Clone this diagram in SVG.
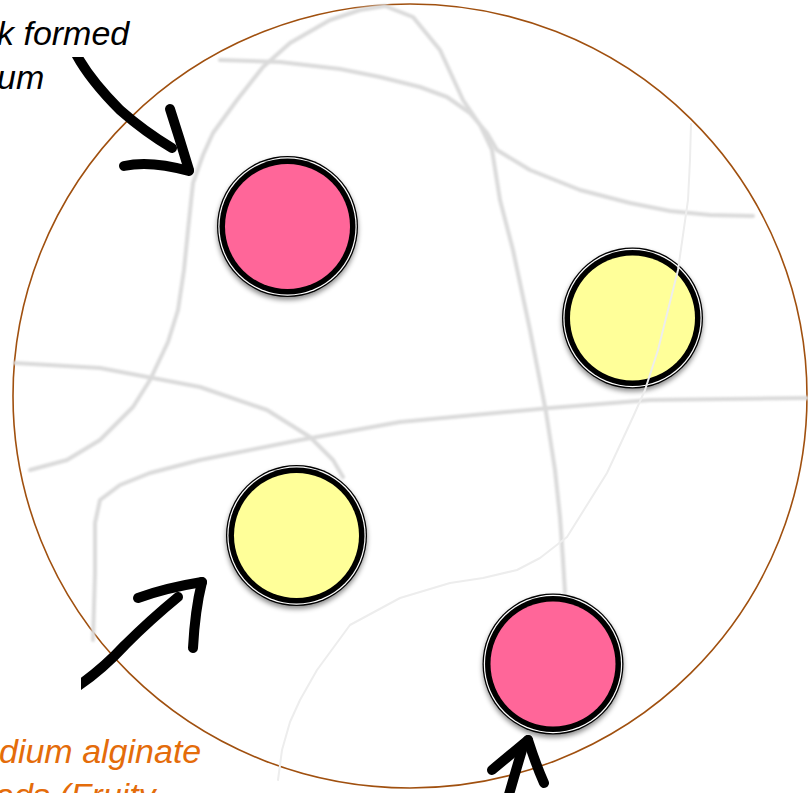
<svg xmlns="http://www.w3.org/2000/svg" width="808" height="793" viewBox="0 0 808 793">
<defs>
<style>
.net{fill:none;stroke:#dadada;stroke-width:4;stroke-linejoin:round;stroke-linecap:round}
.thin{fill:none;stroke:#ededed;stroke-width:2;stroke-linejoin:round;stroke-linecap:round}
.ink{fill:none;stroke:#000;stroke-width:10;stroke-linecap:round;stroke-linejoin:round}
.lbl{font-family:"Liberation Sans",Arial,sans-serif;font-style:italic;font-size:34px}
.pink{fill:#FF6699}
.yel{fill:#FFFF99}
</style>
<filter id="soft" x="-5%" y="-5%" width="110%" height="110%"><feGaussianBlur stdDeviation="1.1"/></filter>
<filter id="shadow" x="-20%" y="-20%" width="140%" height="140%"><feDropShadow dx="0" dy="3" stdDeviation="2.5" flood-color="#000" flood-opacity="0.45"/></filter>
<clipPath id="clipA1"><rect x="0" y="57" width="808" height="736"/></clipPath>
<clipPath id="clipA2"><rect x="81" y="0" width="727" height="793"/></clipPath>
</defs>
<rect width="808" height="793" fill="#fff"/>
<ellipse cx="410" cy="396" rx="397" ry="392" fill="#fff" stroke="#A0500F" stroke-width="1.6"/>
<g id="network" filter="url(#soft)">
<path class="net" d="M220,60 L280,62 L340,69 L380,77 L420,87 L447,97 L470,113 L487,133 L497,150 L530,170 L580,190 L630,203 L670,211 L710,215 L753,216"/>
<path class="net" d="M30,470 L67,460 L100,440 L133,407 L150,380 L168,342 L178,310 L184,270 L188,230 L193,183 L203,155 L213,133 L237,100 L263,67 L290,43 L330,20 L360,10 L385,6 L413,17 L440,50 L463,100 L480,125 L492,150 L500,200 L513,250 L530,330 L546,412 L555,470 L560,517 L563,560 L565,592"/>
<path class="net" d="M15,363 L100,368 L200,387 L267,410 L310,437 L333,460 L343,477"/>
<path class="net" d="M807,398 L650,400 L550,408 L400,422 L300,440 L200,460 L150,473 L120,485 L100,500 L95,523 L95,573 L93,640"/>
</g>
<g id="bead-pink-1" filter="url(#shadow)">
<circle cx="287.5" cy="226.5" r="70.5" fill="#000"/>
<circle cx="287.5" cy="226.5" r="69.2" fill="#fff"/>
<circle cx="287.5" cy="226.5" r="68" fill="#000"/>
<circle class="pink" cx="287.5" cy="226.5" r="62.5"/>
</g>
<g id="bead-yellow-1" filter="url(#shadow)">
<circle cx="632.5" cy="318" r="70.5" fill="#000"/>
<circle cx="632.5" cy="318" r="69.2" fill="#fff"/>
<circle cx="632.5" cy="318" r="68" fill="#000"/>
<circle class="yel" cx="632.5" cy="318" r="62.5"/>
</g>
<g id="bead-yellow-2" filter="url(#shadow)">
<circle cx="296.5" cy="535.5" r="70.5" fill="#000"/>
<circle cx="296.5" cy="535.5" r="69.2" fill="#fff"/>
<circle cx="296.5" cy="535.5" r="68" fill="#000"/>
<circle class="yel" cx="296.5" cy="535.5" r="62.5"/>
</g>
<g id="bead-pink-2" filter="url(#shadow)">
<circle cx="553" cy="664" r="70.5" fill="#000"/>
<circle cx="553" cy="664" r="69.2" fill="#fff"/>
<circle cx="553" cy="664" r="68" fill="#000"/>
<circle class="pink" cx="553" cy="664" r="62.5"/>
</g>
<g id="network-front">
<path class="thin" d="M691,124 L690,160 L688,200 L678,270 L658,350 L645,390 L633,417 L607,473 L567,537 L540,558 L517,570 L483,578 L450,583 L400,598 L350,625 L317,670 L300,700 L290,722 L282,750 L278,780"/>
</g>
<g id="connectors">
<g clip-path="url(#clipA1)">
<path class="ink" stroke-width="11" d="M76,54 Q90,80 120,110 Q145,132 172,148"/>
</g>
<path class="ink" stroke-width="12" d="M170,109 Q180,140 189,170"/>
<path class="ink" d="M124,166 Q150,160 189,171"/>
<g clip-path="url(#clipA2)">
<path class="ink" stroke-width="11" d="M72,690 Q100,672 125,645 Q150,620 178,597"/>
</g>
<path class="ink" stroke-width="12" d="M138,598 Q165,588 202,582"/>
<path class="ink" d="M202,582 Q195,610 193,648"/>
<path class="ink" d="M492,770 L528,740"/>
<path class="ink" d="M528,740 Q536,765 544,783"/>
<path class="ink" d="M522,750 Q516,770 508,798"/>
</g>
<g id="labels">
<text class="lbl" x="-3" y="45" fill="#000">k formed</text>
<text class="lbl" x="-3" y="89" fill="#000">um</text>
<text class="lbl" x="-1" y="763" fill="#E46C0A">dium alginate</text>
<text class="lbl" x="-5" y="807" fill="#E46C0A">ads (Fruity</text>
</g>
</svg>
